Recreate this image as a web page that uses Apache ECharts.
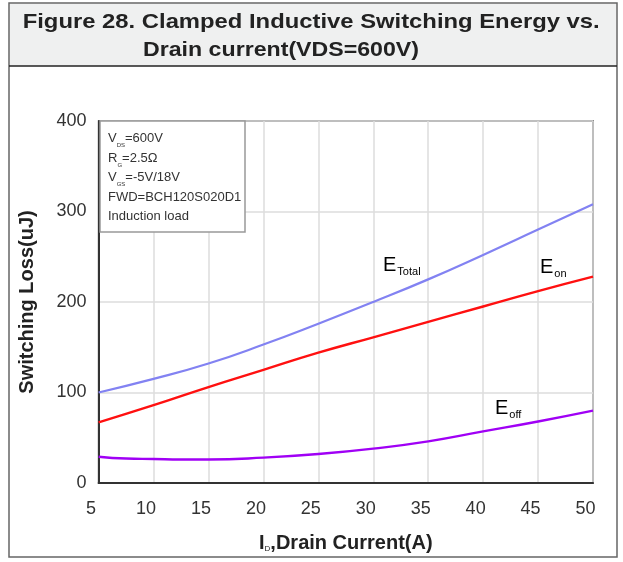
<!DOCTYPE html>
<html>
<head>
<meta charset="utf-8">
<script src="https://cdn.jsdelivr.net/npm/echarts@6/dist/echarts.min.js"></script>
<style>
html,body{margin:0;padding:0;background:#fff;}
#c{width:623px;height:562px;}
</style>
</head>
<body>
<div id="c"></div>
<script>
const xValues = [5, 10, 15, 20, 25, 30, 35, 40, 45, 50];
const eTotal = [100, 115, 132, 153, 176, 200, 225, 252, 280, 308];
const eOn = [67, 86, 106, 125, 144, 161, 178, 195, 212, 228];
const xOff = [5, 7.5, 10, 12.5, 15, 20, 25, 30, 35, 40, 45, 50];
const eOff = [29, 27, 26.5, 26, 26, 28, 32, 38, 46, 57, 68, 80];
const yTicks = [0, 100, 200, 300, 400];
const titleLine1 = 'Figure 28. Clamped Inductive Switching Energy vs.';
const titleLine2 = 'Drain current(VDS=600V)';
const noteLines = [
  ['V', 'DS', '=600V'],
  ['R', 'G', '=2.5Ω'],
  ['V', 'GS', '=-5V/18V'],
  ['FWD=BCH120S020D1', '', ''],
  ['Induction load', '', '']
];

const FONT = "'Liberation Sans', Arial, sans-serif";
function measure(text, font) {
  const cv = document.createElement('canvas').getContext('2d');
  cv.font = font;
  return cv.measureText(text).width;
}
const tFont = 'bold 21px ' + FONT;
const s1 = 577 / measure(titleLine1, tFont);
const s2 = 276 / measure(titleLine2, tFont);

function pairs(xs, ys) { return xs.map((x, i) => [x, ys[i]]); }

const noteText = noteLines.map(l => l[1] ? `{m|${l[0]}}{s|${l[1]}}{m|${l[2]}}` : `{m|${l[0]}}`).join('\n');
const subLabel = (main, sub) => ({
  text: `{e|${main}}{s|${sub}}`, rich: {
    e: {fontSize: 20, fontFamily: FONT, color: '#333'},
    s: {fontSize: 11, fontFamily: FONT, color: '#333', verticalAlign: 'bottom', padding: [12, 0, 0, 1]}
  }
});

const chart = echarts.init(document.getElementById('c'), null, {renderer: 'canvas'});
chart.setOption({
  backgroundColor: '#fff',
  animation: false,
  grid: {left: 98.6, right: 30, top: 121, bottom: 79, show: true, borderColor: '#333', borderWidth: 1.5, backgroundColor: '#fff'},
  xAxis: {
    type: 'value', min: 5, max: 50, interval: 5,
    axisLine: {show: true, lineStyle: {color: '#333', width: 2}},
    axisTick: {show: false},
    splitLine: {show: true, lineStyle: {color: '#ddd', width: 1.5}},
    axisLabel: {color: '#333', fontSize: 18, fontFamily: FONT, margin: 17, padding: [0, 15, 0, 0]},
    name: '{m|I}{s|D}{m|,Drain Current(A)}',
    nameLocation: 'middle', nameGap: 50,
    nameTextStyle: {rich: {
      m: {fontSize: 20, fontWeight: 'bold', color: '#222', fontFamily: FONT},
      s: {fontSize: 8, color: '#222', fontFamily: FONT, verticalAlign: 'bottom', padding: [11, 0, 0, 0]}
    }}
  },
  yAxis: {
    type: 'value', min: 0, max: 400, interval: 100,
    axisLine: {show: true, lineStyle: {color: '#333', width: 2}},
    axisTick: {show: false},
    splitLine: {show: true, lineStyle: {color: '#ddd', width: 1.5}},
    axisLabel: {color: '#333', fontSize: 18, fontFamily: FONT, margin: 12,
      formatter: v => yTicks.includes(v) ? String(v) : ''},
    name: 'Switching Loss(uJ)', nameLocation: 'middle', nameGap: 61,
    nameTextStyle: {fontSize: 20, fontWeight: 'bold', color: '#222', fontFamily: FONT}
  },
  series: [
    {name: 'ETotal', type: 'line', data: pairs(xValues, eTotal), smooth: true, symbol: 'none', lineStyle: {color: '#8282f2', width: 2.2}, z: 3},
    {name: 'Eon', type: 'line', data: pairs(xValues, eOn), smooth: true, symbol: 'none', lineStyle: {color: '#ff1010', width: 2.4}, z: 3},
    {name: 'Eoff', type: 'line', data: pairs(xOff, eOff), smooth: true, symbol: 'none', lineStyle: {color: '#a000f5', width: 2.4}, z: 3}
  ],
  graphic: [
    {type: 'rect', shape: {x: 9, y: 3, width: 608, height: 554}, style: {fill: 'none', stroke: '#666', lineWidth: 1.5}, z: 100, silent: true},
    {type: 'rect', shape: {x: 9.75, y: 3.75, width: 606.5, height: 62}, style: {fill: '#eff0f0'}, z: 99, silent: true},
    {type: 'line', shape: {x1: 9, y1: 66, x2: 617, y2: 66}, style: {stroke: '#222', lineWidth: 1.5}, z: 100, silent: true},
    {type: 'text', x: 22.7, y: 12, scaleX: s1, z: 101, silent: true,
      style: {text: titleLine1, font: tFont, fill: '#222'}},
    {type: 'text', x: 143, y: 40, scaleX: s2, z: 101, silent: true,
      style: {text: titleLine2, font: tFont, fill: '#222'}},
    {type: 'rect', shape: {x: 100, y: 121, width: 145, height: 111}, style: {fill: '#fff', stroke: '#999', lineWidth: 1.5}, z: 50, silent: true},
    {type: 'text', x: 108, y: 129, z: 51, silent: true,
      style: {text: noteText, fill: '#333', rich: {
        m: {fontSize: 13, fontFamily: FONT, color: '#333', lineHeight: 19.5},
        s: {fontSize: 6, fontFamily: FONT, color: '#333', lineHeight: 19.5, verticalAlign: 'bottom'}
      }}},
    {type: 'text', x: 383, y: 254, z: 51, silent: true, style: subLabel('E', 'Total')},
    {type: 'text', x: 540, y: 256, z: 51, silent: true, style: subLabel('E', 'on')},
    {type: 'text', x: 495, y: 397, z: 51, silent: true, style: subLabel('E', 'off')}
  ]
});
</script>
</body>
</html>
